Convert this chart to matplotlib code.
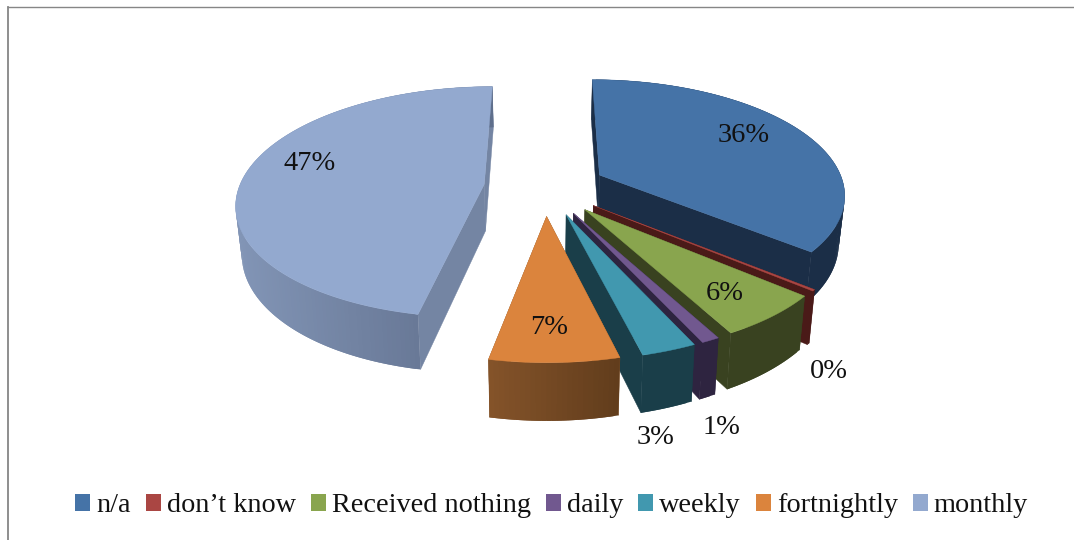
import numpy as np
import matplotlib
matplotlib.use("Agg")
import matplotlib.pyplot as plt
from matplotlib.colors import to_rgb
from matplotlib.patches import Patch, Polygon
from matplotlib.collections import PolyCollection

# ---- data ----
categories = ["n/a", "don’t know", "Received nothing", "daily", "weekly", "fortnightly", "monthly"]
values = [36, 0.2, 6, 1, 3, 7, 47]
value_labels = ["36%", "0%", "6%", "1%", "3%", "7%", "47%"]

# ---- styles ----
top_colors = ["#4573A7", "#AA4643", "#89A54E", "#71588F", "#4198AF", "#DB843D", "#93A9CF"]
face_colors = ["#1B2E47", "#4A1A18", "#394220", "#2E2440", "#1A3E49", "#85542A", "#7485A3"]
wall_left = ["#1B2E47", "#4A1A18", "#394220", "#2E2440", "#1A3E49", "#85542A", "#8295B6"]
wall_right = ["#1B2E47", "#4A1A18", "#394220", "#2E2440", "#1A3E49", "#623D1C", "#5F6E8B"]
label_xy = [(744, 136), (829, 372), (725, 294), (721, 428), (656, 438), (549, 328), (310, 164)]

# ---- projection of the exploded 3D pie ----
CX, CY = 545, 187
RX, RY = 245, 113.5
PERSP = 0.154
EXPLODE = 0.25
DEPTH = 47
FONT = ["Liberation Serif", "DejaVu Serif"]


def project(X, Y, bottom=False):
    s = 1 / (1 - PERSP * Y)
    sx = RX * X * s
    sy = CY + RY * Y * s
    if bottom:
        return CX + 0.98 * sx, sy + DEPTH * s
    return CX + sx, sy


fig = plt.figure(figsize=(10.74, 5.40), dpi=100, facecolor="white")
ax = fig.add_axes([8 / 1074, 0, 1 - 8 / 1074, (540 - 6.5) / 540])
ax.set_xlim(8, 1074)
ax.set_ylim(540, 6.5)
ax.set_xticks([])
ax.set_yticks([])
for side in ("right", "bottom"):
    ax.spines[side].set_visible(False)
ax.spines["left"].set_color("#868686")
ax.spines["left"].set_linewidth(1.3)
ax.spines["top"].set_color("#868686")
ax.spines["top"].set_linewidth(1.0)

fractions = np.array(values, dtype=float) / sum(values)
edges = np.concatenate([[0], np.cumsum(fractions)]) * 2 * np.pi

# draw the back slices first: monthly, then clockwise from n/a
order = [6, 0, 1, 2, 3, 4, 5]
for z, i in enumerate(order):
    t0, t1 = edges[i], edges[i + 1]
    mid = (t0 + t1) / 2
    ox, oy = EXPLODE * np.sin(mid), -EXPLODE * np.cos(mid)
    ts = np.linspace(t0, t1, max(int((t1 - t0) * 60), 4))
    Xr, Yr = ox + np.sin(ts), oy - np.cos(ts)
    top = np.array(project(Xr, Yr)).T
    bot = np.array(project(Xr, Yr, bottom=True)).T
    apex_t = np.array(project(ox, oy))
    apex_b = np.array(project(ox, oy, bottom=True))
    base = 10 + z * 4
    for rim_t, rim_b in ((top[0], bot[0]), (top[-1], bot[-1])):
        ax.add_patch(Polygon([apex_t, rim_t, rim_b, apex_b], closed=True, facecolor=face_colors[i],
                             edgecolor=face_colors[i], lw=0.3, zorder=base))
    # wall pieces overlap their neighbour so that no seams show; ordered from the centre of the rim out
    n = len(ts) - 1
    span = np.clip((top[:-1, 0] - top[:, 0].min()) / max(np.ptp(top[:, 0]), 1), 0, 1)[:, None]
    cl, cr = np.array(to_rgb(wall_left[i])), np.array(to_rgb(wall_right[i]))
    cols = cl + (cr - cl) * span
    segs = [[top[j], top[min(j + 2, n)], bot[min(j + 2, n)], bot[j]] for j in range(n)]
    ax.add_collection(PolyCollection(segs, facecolors=cols, edgecolors="none", zorder=base + 1))
    ax.add_patch(Polygon(np.vstack([apex_t, top]), closed=True, facecolor=top_colors[i],
                         edgecolor=top_colors[i], lw=0.3, zorder=base + 2))

for txt, (x, y) in zip(value_labels, label_xy):
    ax.text(x, y, txt, family=FONT, fontsize=20.5, ha="center", va="center", color="#111111", zorder=60)

handles = [Patch(facecolor=c, edgecolor="none") for c in top_colors]
fs = 20.3
leg = ax.legend(handles, categories, ncol=7, frameon=False, loc="center", bbox_to_anchor=(551.5, 506),
                bbox_transform=ax.transData, prop={"family": FONT, "size": fs},
                handlelength=15 / (fs / 0.72), handleheight=15 / (fs / 0.72),
                handletextpad=6 / (fs / 0.72), columnspacing=15 / (fs / 0.72), borderpad=0, borderaxespad=0)
for t in leg.get_texts():
    t.set_color("#111111")

fig.savefig("out.png", dpi=100, facecolor="white")
